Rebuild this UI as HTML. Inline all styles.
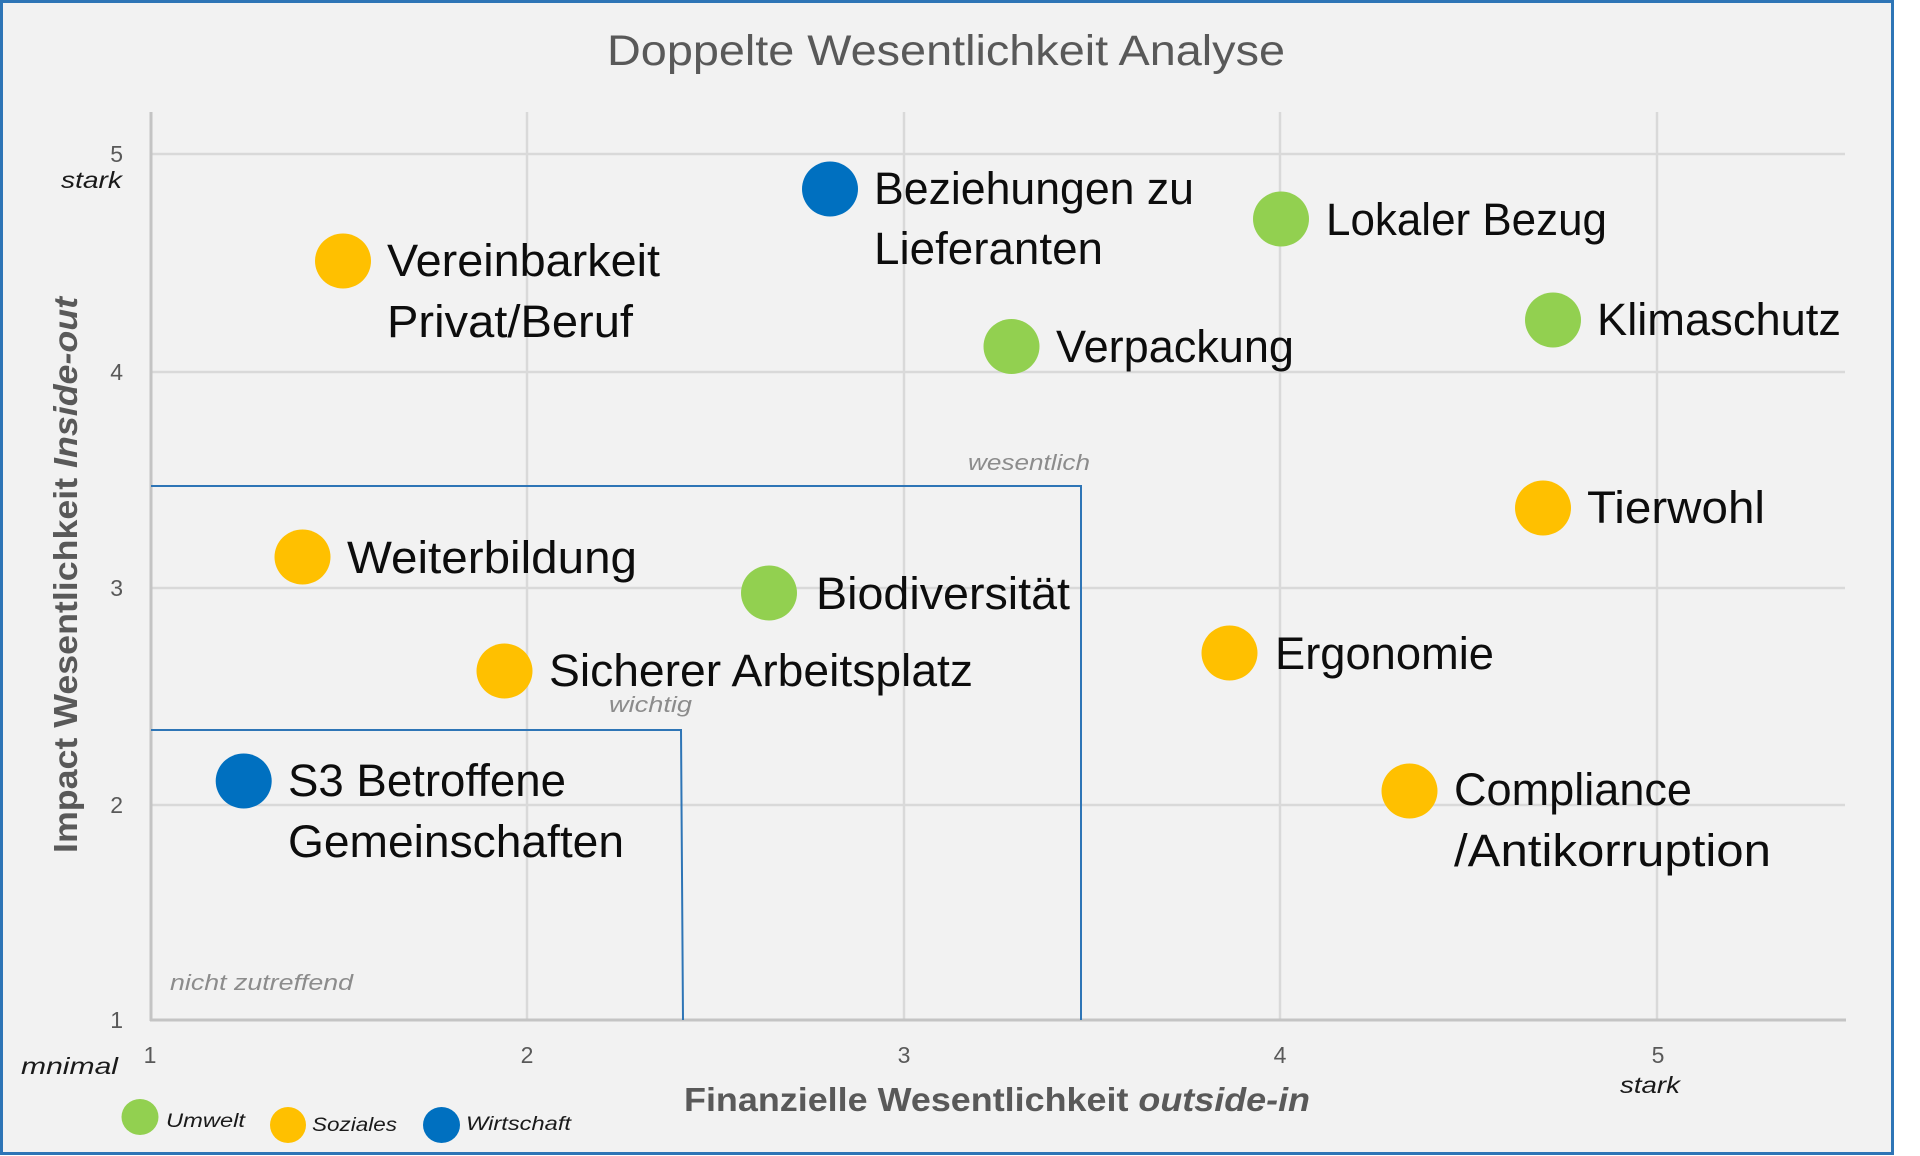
<!DOCTYPE html>
<html>
<head>
<meta charset="utf-8">
<style>
html,body{margin:0;padding:0;background:#ffffff;}
body{width:1920px;height:1156px;overflow:hidden;}
svg{display:block;}
text{font-family:"Liberation Sans",sans-serif;}
</style>
</head>
<body>
<svg width="1920" height="1156" viewBox="0 0 1920 1156" xmlns="http://www.w3.org/2000/svg">
  <rect x="0" y="0" width="1920" height="1156" fill="#ffffff"/>
  <rect x="1.5" y="1.5" width="1891" height="1152" fill="#f2f2f2" stroke="#2e75b6" stroke-width="3"/>

  <!-- Title -->
  <text x="607" y="65" font-size="43" fill="#595959" textLength="678" lengthAdjust="spacingAndGlyphs">Doppelte Wesentlichkeit Analyse</text>

  <!-- Gridlines vertical -->
  <g stroke="#d9d9d9" stroke-width="2.5">
    <line x1="527" y1="112" x2="527" y2="1020"/>
    <line x1="904" y1="112" x2="904" y2="1020"/>
    <line x1="1280" y1="112" x2="1280" y2="1020"/>
    <line x1="1657" y1="112" x2="1657" y2="1020"/>
    <line x1="151" y1="154" x2="1845" y2="154"/>
    <line x1="151" y1="372" x2="1845" y2="372"/>
    <line x1="151" y1="588" x2="1845" y2="588"/>
    <line x1="151" y1="805" x2="1845" y2="805"/>
  </g>
  <!-- Axes -->
  <g stroke="#c4c4c4" stroke-width="3">
    <line x1="151" y1="112" x2="151" y2="1021"/>
    <line x1="150" y1="1020" x2="1846" y2="1020"/>
  </g>

  <!-- Region boxes -->
  <g stroke="#2e75b6" stroke-width="2" fill="none">
    <polyline points="151,486 1081,486 1081,1020"/>
    <polyline points="151,730 681,730 683,1020"/>
  </g>
  <g font-style="italic" font-size="22" fill="#8c8c8c">
    <text x="968" y="470" textLength="122" lengthAdjust="spacingAndGlyphs">wesentlich</text>
    <text x="609" y="712" textLength="83" lengthAdjust="spacingAndGlyphs">wichtig</text>
    <text x="170" y="990" textLength="183" lengthAdjust="spacingAndGlyphs">nicht zutreffend</text>
  </g>

  <!-- Y tick labels -->
  <g font-size="23" fill="#595959" text-anchor="end">
    <text x="123" y="162">5</text>
    <text x="123" y="380">4</text>
    <text x="123" y="596">3</text>
    <text x="123" y="813">2</text>
    <text x="123" y="1028">1</text>
  </g>
  <!-- X tick labels -->
  <g font-size="23" fill="#595959" text-anchor="middle">
    <text x="150" y="1063">1</text>
    <text x="527" y="1063">2</text>
    <text x="904" y="1063">3</text>
    <text x="1280" y="1063">4</text>
    <text x="1658" y="1063">5</text>
  </g>
  <g font-size="23" font-style="italic" fill="#1a1a1a">
    <text x="61" y="188" textLength="61" lengthAdjust="spacingAndGlyphs">stark</text>
    <text x="1620" y="1093" textLength="60" lengthAdjust="spacingAndGlyphs">stark</text>
    <text x="21" y="1074" textLength="97" lengthAdjust="spacingAndGlyphs">mnimal</text>
  </g>

  <!-- Axis titles -->
  <text x="684" y="1111" font-size="33" font-weight="bold" fill="#595959" textLength="626" lengthAdjust="spacingAndGlyphs">Finanzielle Wesentlichkeit <tspan font-style="italic">outside-in</tspan></text>
  <text transform="translate(77,575) rotate(-90)" x="0" y="0" text-anchor="middle" font-size="33" font-weight="bold" fill="#595959" textLength="556" lengthAdjust="spacingAndGlyphs">Impact Wesentlichkeit <tspan font-style="italic">Inside-out</tspan></text>

  <!-- Data points -->
  <g>
    <ellipse cx="830" cy="189" rx="28" ry="27.5" fill="#0070c0"/>
    <ellipse cx="1281" cy="219" rx="28" ry="27.5" fill="#92d050"/>
    <ellipse cx="343" cy="261" rx="28" ry="27.5" fill="#ffc000"/>
    <ellipse cx="1553" cy="320" rx="28" ry="27.5" fill="#92d050"/>
    <ellipse cx="1011.5" cy="346.5" rx="28" ry="27.5" fill="#92d050"/>
    <ellipse cx="1543" cy="508" rx="28" ry="27.5" fill="#ffc000"/>
    <ellipse cx="302.5" cy="557" rx="28" ry="27.5" fill="#ffc000"/>
    <ellipse cx="769" cy="593" rx="28" ry="27.5" fill="#92d050"/>
    <ellipse cx="1229.5" cy="653" rx="28" ry="27.5" fill="#ffc000"/>
    <ellipse cx="504.5" cy="671" rx="28" ry="27.5" fill="#ffc000"/>
    <ellipse cx="243.7" cy="781" rx="28" ry="27.5" fill="#0070c0"/>
    <ellipse cx="1409.5" cy="791" rx="28" ry="27.5" fill="#ffc000"/>
  </g>

  <!-- Data labels -->
  <g font-size="45" fill="#0d0d0d">
    <text x="874" y="204" textLength="320" lengthAdjust="spacingAndGlyphs">Beziehungen zu</text>
    <text x="874" y="264" textLength="229" lengthAdjust="spacingAndGlyphs">Lieferanten</text>
    <text x="1326" y="235" textLength="281" lengthAdjust="spacingAndGlyphs">Lokaler Bezug</text>
    <text x="387" y="276" textLength="273" lengthAdjust="spacingAndGlyphs">Vereinbarkeit</text>
    <text x="387" y="337" textLength="246" lengthAdjust="spacingAndGlyphs">Privat/Beruf</text>
    <text x="1597" y="335" textLength="244" lengthAdjust="spacingAndGlyphs">Klimaschutz</text>
    <text x="1056" y="362" textLength="238" lengthAdjust="spacingAndGlyphs">Verpackung</text>
    <text x="1587" y="523" textLength="178" lengthAdjust="spacingAndGlyphs">Tierwohl</text>
    <text x="347" y="573" textLength="290" lengthAdjust="spacingAndGlyphs">Weiterbildung</text>
    <text x="816" y="609" textLength="254" lengthAdjust="spacingAndGlyphs">Biodiversität</text>
    <text x="1275" y="669" textLength="219" lengthAdjust="spacingAndGlyphs">Ergonomie</text>
    <text x="549" y="686" textLength="424" lengthAdjust="spacingAndGlyphs">Sicherer Arbeitsplatz</text>
    <text x="288" y="796" textLength="278" lengthAdjust="spacingAndGlyphs">S3 Betroffene</text>
    <text x="288" y="857" textLength="336" lengthAdjust="spacingAndGlyphs">Gemeinschaften</text>
    <text x="1454" y="805" textLength="238" lengthAdjust="spacingAndGlyphs">Compliance</text>
    <text x="1454" y="866" textLength="317" lengthAdjust="spacingAndGlyphs">/Antikorruption</text>
  </g>

  <!-- Legend -->
  <ellipse cx="140" cy="1117" rx="18.5" ry="18" fill="#92d050"/>
  <ellipse cx="288" cy="1125" rx="18" ry="18" fill="#ffc000"/>
  <ellipse cx="441.5" cy="1125" rx="18.5" ry="18" fill="#0070c0"/>
  <g font-size="19" font-style="italic" fill="#1a1a1a">
    <text x="166" y="1127" textLength="79" lengthAdjust="spacingAndGlyphs">Umwelt</text>
    <text x="312" y="1131" textLength="85" lengthAdjust="spacingAndGlyphs">Soziales</text>
    <text x="466" y="1130" textLength="105" lengthAdjust="spacingAndGlyphs">Wirtschaft</text>
  </g>
</svg>
</body>
</html>
